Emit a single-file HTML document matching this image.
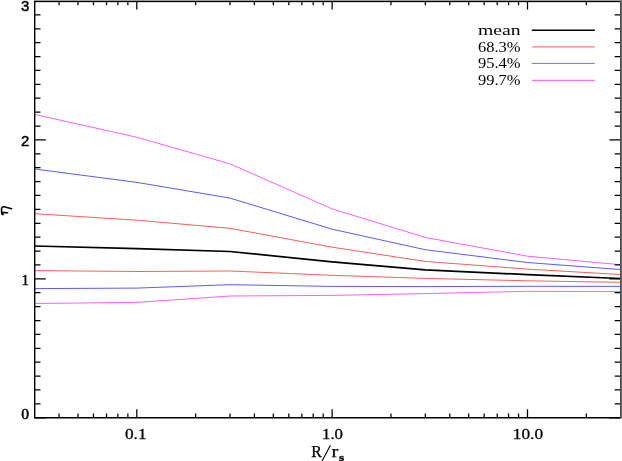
<!DOCTYPE html><html><head><meta charset="utf-8"><style>html,body{margin:0;padding:0;background:#fff;}svg{display:block;position:absolute;left:0;top:0}svg{will-change:transform}text{font-family:"Liberation Serif",serif;fill:#000}.s{font-family:"Liberation Sans",sans-serif}</style></head><body>
<svg width="622" height="461" viewBox="0 0 622 461">
<rect width="622" height="461" fill="#fff"/>
<polyline points="34.7,114.4 137.0,137.3 230.0,163.8 332.2,208.9 425.2,237.4 527.3,256.2 620.3,264.7" fill="none" stroke="#ff4cf0" stroke-width="0.9" stroke-linejoin="round"/>
<polyline points="34.7,169.0 137.0,182.4 230.0,198.1 332.2,229.2 425.2,249.7 527.3,262.5 620.3,269.5" fill="none" stroke="#4848ff" stroke-width="0.9" stroke-linejoin="round"/>
<polyline points="34.7,213.7 137.0,220.2 230.0,228.3 332.2,247.2 425.2,261.4 527.3,269.1 620.3,274.5" fill="none" stroke="#ff4a4a" stroke-width="0.9" stroke-linejoin="round"/>
<polyline points="34.7,270.6 137.0,271.5 230.0,271.0 332.2,275.3 425.2,278.4 527.3,280.8 620.3,282.3" fill="none" stroke="#ff4a4a" stroke-width="0.9" stroke-linejoin="round"/>
<polyline points="34.7,288.6 137.0,288.1 230.0,284.7 332.2,286.4 425.2,286.6 527.3,286.3 620.3,286.4" fill="none" stroke="#4848ff" stroke-width="0.9" stroke-linejoin="round"/>
<polyline points="34.7,303.5 137.0,302.4 230.0,296.0 332.2,295.4 425.2,293.6 527.3,291.3 620.3,291.6" fill="none" stroke="#ff4cf0" stroke-width="0.9" stroke-linejoin="round"/>
<polyline points="34.7,246.0 137.0,248.6 230.0,251.5 332.2,261.9 425.2,269.8 527.3,274.6 620.3,278.5" fill="none" stroke="#000000" stroke-width="1.75" stroke-linejoin="round"/>
<path d="M34.7,417.75h11.1 M620.5,417.75h-11.1 M34.7,403.86h5.8 M620.5,403.86h-5.8 M34.7,389.97h5.8 M620.5,389.97h-5.8 M34.7,376.08h5.8 M620.5,376.08h-5.8 M34.7,362.18h5.8 M620.5,362.18h-5.8 M34.7,348.29h5.8 M620.5,348.29h-5.8 M34.7,334.40h5.8 M620.5,334.40h-5.8 M34.7,320.51h5.8 M620.5,320.51h-5.8 M34.7,306.62h5.8 M620.5,306.62h-5.8 M34.7,292.73h5.8 M620.5,292.73h-5.8 M34.7,278.83h11.1 M620.5,278.83h-11.1 M34.7,264.94h5.8 M620.5,264.94h-5.8 M34.7,251.05h5.8 M620.5,251.05h-5.8 M34.7,237.16h5.8 M620.5,237.16h-5.8 M34.7,223.27h5.8 M620.5,223.27h-5.8 M34.7,209.38h5.8 M620.5,209.38h-5.8 M34.7,195.48h5.8 M620.5,195.48h-5.8 M34.7,181.59h5.8 M620.5,181.59h-5.8 M34.7,167.70h5.8 M620.5,167.70h-5.8 M34.7,153.81h5.8 M620.5,153.81h-5.8 M34.7,139.92h11.1 M620.5,139.92h-11.1 M34.7,126.02h5.8 M620.5,126.02h-5.8 M34.7,112.13h5.8 M620.5,112.13h-5.8 M34.7,98.24h5.8 M620.5,98.24h-5.8 M34.7,84.35h5.8 M620.5,84.35h-5.8 M34.7,70.46h5.8 M620.5,70.46h-5.8 M34.7,56.57h5.8 M620.5,56.57h-5.8 M34.7,42.67h5.8 M620.5,42.67h-5.8 M34.7,28.78h5.8 M620.5,28.78h-5.8 M34.7,14.89h5.8 M620.5,14.89h-5.8 M34.7,1.00h11.1 M620.5,1.00h-11.1 M59.06,417.75v-4.2 M59.06,1.0v4.2 M77.99,417.75v-4.2 M77.99,1.0v4.2 M93.46,417.75v-4.2 M93.46,1.0v4.2 M106.54,417.75v-4.2 M106.54,1.0v4.2 M117.87,417.75v-4.2 M117.87,1.0v4.2 M127.86,417.75v-4.2 M127.86,1.0v4.2 M136.80,417.75v-8.6 M136.80,1.0v8.6 M195.61,417.75v-4.2 M195.61,1.0v4.2 M230.01,417.75v-4.2 M230.01,1.0v4.2 M254.41,417.75v-4.2 M254.41,1.0v4.2 M273.34,417.75v-4.2 M273.34,1.0v4.2 M288.81,417.75v-4.2 M288.81,1.0v4.2 M301.89,417.75v-4.2 M301.89,1.0v4.2 M313.22,417.75v-4.2 M313.22,1.0v4.2 M323.21,417.75v-4.2 M323.21,1.0v4.2 M332.15,417.75v-8.6 M332.15,1.0v8.6 M390.96,417.75v-4.2 M390.96,1.0v4.2 M425.36,417.75v-4.2 M425.36,1.0v4.2 M449.76,417.75v-4.2 M449.76,1.0v4.2 M468.69,417.75v-4.2 M468.69,1.0v4.2 M484.16,417.75v-4.2 M484.16,1.0v4.2 M497.24,417.75v-4.2 M497.24,1.0v4.2 M508.57,417.75v-4.2 M508.57,1.0v4.2 M518.56,417.75v-4.2 M518.56,1.0v4.2 M527.50,417.75v-8.6 M527.50,1.0v8.6 M586.31,417.75v-4.2 M586.31,1.0v4.2" stroke="#000" stroke-width="1.25" fill="none"/>
<path d="M34.7,1V417.75H620.5" stroke="#000" stroke-width="1.4" fill="none" stroke-linejoin="miter"/>
<rect x="34" y="0" width="588" height="1" fill="#9c9c9c"/>
<rect x="34" y="1" width="588" height="1.15" fill="#000"/>
<rect x="620" y="1" width="1" height="417.4" fill="#4c4c4c"/>
<rect x="621" y="0" width="1" height="418.4" fill="#6a6a6a"/>
<text class="s" x="20.9" y="11.1" font-size="14.8" stroke="#000" stroke-width="0.45" textLength="8.3" lengthAdjust="spacingAndGlyphs">3</text>
<text class="s" x="20.9" y="145.5" font-size="14.8" stroke="#000" stroke-width="0.45" textLength="8.3" lengthAdjust="spacingAndGlyphs">2</text>
<text x="21.6" y="284.7" font-size="15" stroke="#000" stroke-width="0.35">1</text>
<text x="21.2" y="418.8" font-size="15.5" stroke="#000" stroke-width="0.5" textLength="7.8" lengthAdjust="spacingAndGlyphs">0</text>
<text x="125.0" y="439.4" font-size="15.3" stroke="#000" stroke-width="0.3" textLength="21.5" lengthAdjust="spacingAndGlyphs">0.1</text>
<text x="322" y="439.4" font-size="15.3" stroke="#000" stroke-width="0.3" textLength="21" lengthAdjust="spacingAndGlyphs">1.0</text>
<text x="512.8" y="439.4" font-size="15.3" stroke="#000" stroke-width="0.3" textLength="30.3" lengthAdjust="spacingAndGlyphs">10.0</text>
<text x="311.3" y="457.3" font-size="15.8" stroke="#000" stroke-width="0.25">R</text>
<path d="M330.4,445.3L321.6,462" stroke="#000" stroke-width="1.1" fill="none"/>
<text x="331.6" y="457.3" font-size="16.7" stroke="#000" stroke-width="0.25" textLength="6.8" lengthAdjust="spacingAndGlyphs">r</text>
<text x="339" y="460.5" font-size="10.4" font-weight="bold" stroke="#000" stroke-width="0.3" textLength="5.2" lengthAdjust="spacingAndGlyphs">s</text>
<path d="M11.6,208.8L4.2,206.8C2.6,206.4 1.5,207.6 1.5,209.6L1.6,211.6C1.7,212.3 2.2,212.6 2.8,212.6L7.6,212.8M1.9,212.3C1.4,213.2 1.6,214.2 3.0,214.6" stroke="#000" stroke-width="1.6" fill="none" stroke-linecap="round" stroke-linejoin="round"/>
<text x="477.9" y="34.9" font-size="15.2" fill="#222" textLength="42.6" lengthAdjust="spacingAndGlyphs">mean</text>
<path d="M531.8,30.2H594.9" stroke="#000" stroke-width="1.6"/>
<text x="477.9" y="51.7" font-size="15.4" fill="#222" textLength="42.6" lengthAdjust="spacingAndGlyphs">68.3%</text>
<path d="M531.8,46.9H594.9" stroke="#ffa4a4" stroke-width="1.8"/>
<text x="477.9" y="68.2" font-size="15.4" fill="#222" textLength="42.6" lengthAdjust="spacingAndGlyphs">95.4%</text>
<path d="M531.8,63.4H594.9" stroke="#7070ff" stroke-width="1.0"/>
<text x="477.9" y="85.0" font-size="15.4" fill="#222" textLength="42.6" lengthAdjust="spacingAndGlyphs">99.7%</text>
<path d="M531.8,80.3H594.9" stroke="#ff6cf0" stroke-width="1.2"/>
</svg></body></html>
